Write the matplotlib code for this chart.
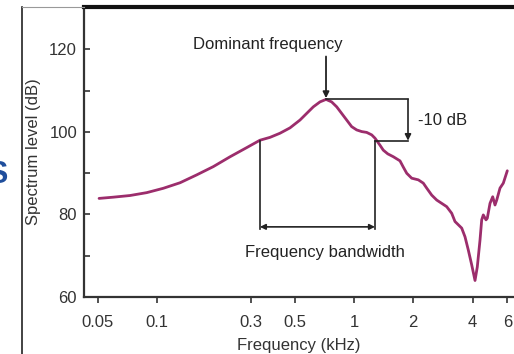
import matplotlib
matplotlib.use("Agg")
from matplotlib import pyplot as plt
from matplotlib.lines import Line2D
from matplotlib.ticker import FixedLocator, NullLocator, FixedFormatter

plt.rcParams['font.family'] = ['Liberation Sans', 'DejaVu Sans']

# spectrum (kHz, dB)
freq = [0.0508, 0.060, 0.0729, 0.0887, 0.1076, 0.131, 0.159, 0.193, 0.235, 0.285,
        0.333, 0.3747, 0.421, 0.4733, 0.532, 0.575, 0.6216, 0.672, 0.721, 0.770,
        0.817, 0.866, 0.918, 0.973, 1.032, 1.094, 1.160, 1.230, 1.278, 1.355,
        1.408, 1.484, 1.584, 1.712, 1.779, 1.852, 1.963, 2.121, 2.248, 2.339,
        2.480, 2.630, 2.788, 2.955, 3.133, 3.256, 3.522, 3.660, 3.804, 3.958,
        4.115, 4.226, 4.362, 4.449, 4.533, 4.679, 4.750, 4.903, 5.060, 5.198,
        5.303, 5.511, 5.728, 6.001]
level = [83.9, 84.2, 84.6, 85.3, 86.35, 87.7, 89.6, 91.6, 94.0, 96.2,
         98.0, 98.7, 99.7, 101.0, 102.9, 104.5, 106.1, 107.3, 107.9, 107.3,
         106.1, 104.5, 102.9, 101.3, 100.5, 100.1, 99.9, 99.3, 98.5, 96.8,
         95.6, 94.7, 94.0, 93.0, 91.5, 90.0, 88.8, 88.4, 87.6, 86.4,
         84.7, 83.5, 82.7, 81.9, 80.3, 78.3, 76.7, 74.6, 71.4, 67.8,
         64.0, 67.3, 73.8, 78.7, 79.9, 78.7, 79.1, 82.7, 84.3, 82.3,
         83.5, 86.4, 87.6, 90.6]

xticks = [0.05, 0.1, 0.3, 0.5, 1, 2, 4, 6]
xticklabels = ['0.05', '0.1', '0.3', '0.5', '1', '2', '4', '6']
yticks = [60, 80, 100, 120]
yminor = [70, 90, 110]

peak_f, peak_db = 0.721, 107.9
band_lo, band_hi = 0.333, 1.278
drop_db = peak_db - 10

fig = plt.figure(figsize=(5.14, 3.54), dpi=100)
ax = fig.add_axes([84/514, 57/354, 1 - 84/514, 290/354])

ax.plot(freq, level, color='#9c2d6c', lw=2.0, solid_joinstyle='round', solid_capstyle='round')
ax.set_xscale('log')
ax.set_xlim(0.0426, 6.49)
ax.set_ylim(60, 130.3)

ax.xaxis.set_major_locator(FixedLocator(xticks))
ax.xaxis.set_major_formatter(FixedFormatter(xticklabels))
ax.xaxis.set_minor_locator(NullLocator())
ax.set_yticks(yticks)
ax.set_yticks(yminor, minor=True)
ax.tick_params(axis='x', direction='out', length=4, width=1.2, labelsize=12, colors='#333333', pad=9)
ax.tick_params(axis='y', which='both', direction='in', length=4, width=1.2, labelsize=12, colors='#333333', pad=5)

for s in ['left', 'bottom']:
    ax.spines[s].set_linewidth(1.6)
    ax.spines[s].set_color('#333333')
ax.spines['top'].set_linewidth(3)
ax.spines['top'].set_color('#111111')
ax.spines['right'].set_visible(False)

ax.set_xlabel('Frequency (kHz)', fontsize=12, color='#333333', labelpad=6)
ax.set_ylabel('Spectrum level (dB)', fontsize=12, color='#333333', labelpad=6)

lc = '#222222'
# dominant frequency arrow
ax.annotate('', xy=(peak_f, peak_db + 0.3), xytext=(peak_f, 118.3),
            arrowprops=dict(arrowstyle='-|>', color=lc, lw=1.3, mutation_scale=9, shrinkA=0, shrinkB=0))
ax.text(0.366, 121.3, 'Dominant frequency', ha='center', va='center', fontsize=12, color='#222222')

# -10 dB bracket
ax.plot([peak_f, 1.88], [peak_db, peak_db], color=lc, lw=1.2)
ax.plot([band_hi, 1.88], [drop_db, drop_db], color=lc, lw=1.2)
ax.annotate('', xy=(1.88, drop_db), xytext=(1.88, peak_db),
            arrowprops=dict(arrowstyle='-|>', color=lc, lw=1.2, mutation_scale=9, shrinkA=0, shrinkB=0))
ax.text(2.11, 102.9, '-10 dB', ha='left', va='center', fontsize=12, color='#222222')

# bandwidth
ax.plot([band_lo, band_lo], [drop_db, 76.5], color=lc, lw=1.2)
ax.plot([band_hi, band_hi], [drop_db, 76.5], color=lc, lw=1.2)
ax.annotate('', xy=(band_lo, 77.0), xytext=(band_hi, 77.0),
            arrowprops=dict(arrowstyle='<|-|>', color=lc, lw=1.2, mutation_scale=8, shrinkA=0, shrinkB=0))
ax.text(0.712, 70.9, 'Frequency bandwidth', ha='center', va='center', fontsize=12, color='#222222')

# outer frame remnants
fig.add_artist(Line2D([22/514, 22/514], [0, 347/354], color='#222222', lw=1.2))
fig.add_artist(Line2D([22/514, 84/514], [347/354, 347/354], color='#999999', lw=0.8))
fig.text(7/514, 0.506, 'S', fontsize=22, fontweight='bold', color='#1f4e9c', ha='right', va='center')

fig.savefig('out.png', dpi=100)
